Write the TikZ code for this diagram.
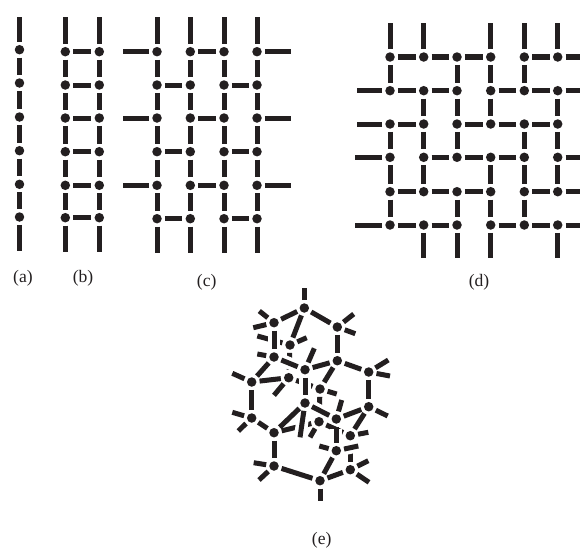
\documentclass[tikz,border=0pt]{standalone}
\usepackage{fontspec}
\setmainfont{Liberation Serif}
\definecolor{LatticeInk}{HTML}{231F20}
\pgfdeclarelayer{bonds}
\pgfsetlayers{bonds,main}
\tikzset{
  dot/.style={circle,fill=LatticeInk,draw=none,inner sep=0pt,minimum size=0.19cm,outer sep=1.8pt},
  bond/.style={LatticeInk,line width=2.85pt},
  halo/.style={white,line width=7pt},
  caption/.style={font=\fontsize{10}{12}\selectfont,text=LatticeInk,inner sep=0pt}
}
\begin{document}
\begin{tikzpicture}[x=0.02cm,y=-0.02cm]
  \useasboundingbox (0,0) rectangle (580,548);

  % (a)
  \foreach \row/\yy in {1/49.7,2/83,3/117,4/150.7,5/184.3,6/217}
    \node[dot] (a-\row) at (19.5,\yy) {};
  \coordinate (a-top) at (19.5,17);
  \coordinate (a-bot) at (19.5,250.7);
  % (b)
  \foreach \row/\yy in {1/51.7,2/85,3/118,4/151.7,5/185.3,6/217.7}
    \foreach \col/\xx in {1/65.3,2/99.3}
      \node[dot] (b-\col-\row) at (\xx,\yy) {};
  \coordinate (b-top-1) at (65.3,17);
  \coordinate (b-top-2) at (99.3,17);
  \coordinate (b-bot-1) at (65.3,251.7);
  \coordinate (b-bot-2) at (99.3,251.7);
  % (c)
  \foreach \row/\yy in {1/51.7,2/85,3/118,4/151.7,5/185.3,6/218.7}
    \foreach \col/\xx in {1/157,2/190.3,3/224,4/257}
      \node[dot] (c-\col-\row) at (\xx,\yy) {};
  \foreach \col/\xx in {1/157,2/190.3,3/224,4/257} {
    \coordinate (c-top-\col) at (\xx,17);
    \coordinate (c-bot-\col) at (\xx,252.7);
  }
  \foreach \row/\yy in {1/51.7,3/118,5/185.3} {
    \coordinate (c-left-\row) at (123,\yy);
    \coordinate (c-right-\row) at (290.7,\yy);
  }
  % (d)
  \foreach \row/\yy in {1/57,2/90.7,3/124,4/157.3,5/191.7,6/225}
    \foreach \col/\xx in {1/390,2/423.7,3/457,4/490.7,5/524.3,6/557.7}
      \node[dot] (d-\col-\row) at (\xx,\yy) {};
  \foreach \col/\xx in {1/390,2/423.7,4/490.7,5/524.3,6/557.7}
    \coordinate (d-top-\col) at (\xx,23);
  \foreach \col/\xx in {2/423.7,3/457,4/490.7,6/557.7}
    \coordinate (d-bot-\col) at (\xx,257.7);
  \foreach \row/\yy/\xx in {2/90.7/357,3/124/357,4/157.3/355,6/225/355}
    \coordinate (d-left-\row) at (\xx,\yy);
  \foreach \row/\yy in {1/57,2/90.7,4/157.3,5/191.7,6/225}
    \coordinate (d-right-\row) at (580,\yy);
  % (e)
  \foreach \nam/\xx/\yy in {ea/304.3/308,eb/274/322.7,ec/337.3/327,ed/290/345,ee/274/357,
      ef/337.3/360.7,eg/305/369.7,eh/368.7/372,ei/251.7/382,ej/288.7/377.7,ek/320/389,
      el/251.7/418,em/305/403,eo/319/421.7,ep/336.3/419,eq/368.7/406.7,er/350.3/435.7,
      es/274/432.7,et/336.3/450.7,eu/350.3/469.7,ev/274/466,ew/320/480.7}
    \node[dot] (\nam) at (\xx,\yy) {};
  \foreach \nam/\xx/\yy in {em-s/300/437.3,et-s/358.3/446}
    \coordinate (\nam) at (\xx,\yy);

  \begin{pgfonlayer}{bonds}
    \foreach \row [evaluate=\row as \nxt using int(\row+1)] in {1,...,5}
      \draw[bond] (a-\row) -- (a-\nxt);
    \draw[bond] (a-1) -- (a-top);
    \draw[bond] (a-6) -- (a-bot);

    \foreach \row in {1,...,6}
      \draw[bond] (b-1-\row) -- (b-2-\row);
    \foreach \col in {1,2} {
      \foreach \row [evaluate=\row as \nxt using int(\row+1)] in {1,...,5}
        \draw[bond] (b-\col-\row) -- (b-\col-\nxt);
      \draw[bond] (b-\col-1) -- (b-top-\col);
      \draw[bond] (b-\col-6) -- (b-bot-\col);
    }

    \foreach \col in {1,...,4} {
      \foreach \row [evaluate=\row as \nxt using int(\row+1)] in {1,...,5}
        \draw[bond] (c-\col-\row) -- (c-\col-\nxt);
      \draw[bond] (c-\col-1) -- (c-top-\col);
      \draw[bond] (c-\col-6) -- (c-bot-\col);
    }
    \foreach \row in {1,3,5} {
      \draw[bond] (c-2-\row) -- (c-3-\row);
      \draw[bond] (c-1-\row) -- (c-left-\row);
      \draw[bond] (c-4-\row) -- (c-right-\row);
    }
    \foreach \row in {2,4,6} {
      \draw[bond] (c-1-\row) -- (c-2-\row);
      \draw[bond] (c-3-\row) -- (c-4-\row);
    }

    % (d), col/row of the left or upper end
    \foreach \col/\row [evaluate=\col as \nxt using int(\col+1)] in
        {1/1,2/1,3/1,5/1,1/2,2/2,4/2,5/2,1/3,3/3,4/3,5/3,2/4,3/4,4/4,1/5,2/5,3/5,5/5,1/6,2/6,4/6,5/6}
      \draw[bond] (d-\col-\row) -- (d-\nxt-\row);
    \foreach \col/\row [evaluate=\row as \nxt using int(\row+1)] in
        {1/1,3/1,4/1,5/1,2/2,3/2,4/2,6/2,1/3,2/3,3/3,5/3,6/3,1/4,2/4,4/4,5/4,6/4,1/5,3/5,4/5,5/5}
      \draw[bond] (d-\col-\row) -- (d-\col-\nxt);
    \foreach \col in {1,2,4,5,6}
      \draw[bond] (d-\col-1) -- (d-top-\col);
    \foreach \col in {2,3,4,6}
      \draw[bond] (d-\col-6) -- (d-bot-\col);
    \foreach \row in {2,3,4,6}
      \draw[bond] (d-1-\row) -- (d-left-\row);
    \foreach \row in {1,2,4,5,6}
      \draw[bond] (d-6-\row) -- (d-right-\row);

    % (e), lower lattice first
    \foreach \aa/\bb in {ed/ej,ej/ek,ek/eo,es/eo,eo/er,er/eu}
      \draw[bond] (\aa) -- (\bb);
    \foreach \nam/\xx/\yy [count=\i] in {ed/257.3/336,ed/306.7/337.7}
      { \coordinate (ed-s\i) at (\xx,\yy); \draw[bond] (\nam) -- (ed-s\i); }
    \foreach \aa/\bb in {eb/ee,ee/eg,eg/em,em/em-s,ep/et,et/et-s,em/ep}
      \draw[halo,shorten >=1pt,shorten <=1pt] (\aa) -- (\bb);
    \foreach \aa/\bb in {ea/eb,ea/ec,ea/ed,eb/ee,ec/ef,ee/ei,ee/eg,eg/ef,eg/em,ef/eh,ef/ek,
        eh/eq,ei/el,ei/ej,em/es,em/ep,em/em-s,el/es,es/ev,ep/eq,ep/et,eq/er,et/ew,et/et-s,
        eu/ew,ev/ew}
      \draw[bond] (\aa) -- (\bb);
    \foreach \nam/\xx/\yy [count=\i] in {ea/304.3/288.3,eb/259.3/311,eb/253.3/327.7,
        ec/353.7/314,ec/355.3/333.7,ee/257.3/354,eg/314.3/348.3,eh/388.3/360,eh/390/376,
        ei/232.3/373.3,ej/274/395.3,ek/336.7/394,ep/341.7/400,el/232.3/412.3,el/238.3/431,
        eo/310/437.3,eq/387.7/416,er/368.3/432.3,et/319.3/446,eu/368.3/460.7,eu/369/482.3,
        ev/253.7/462.7,ev/259/480,ew/320/500.7}
      { \coordinate (es\i) at (\xx,\yy); \draw[bond] (\nam) -- (es\i); }
  \end{pgfonlayer}

  \node[caption] (lab-a) at (23,278) {(a)};
  \node[caption] (lab-b) at (83,278) {(b)};
  \node[caption] (lab-c) at (206.7,282) {(c)};
  \node[caption] (lab-d) at (479,282) {(d)};
  \node[caption] (lab-e) at (321.7,540) {(e)};
\end{tikzpicture}
\end{document}
